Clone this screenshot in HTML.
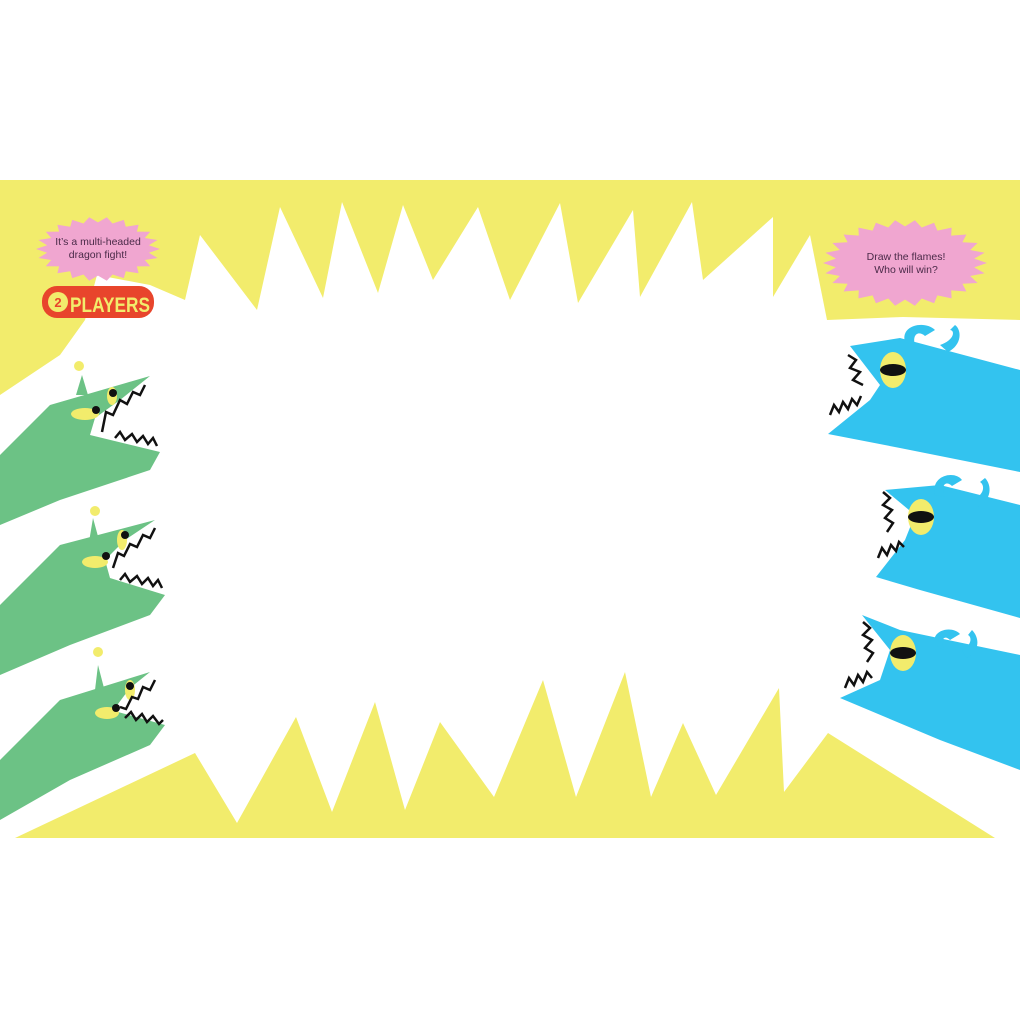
<!DOCTYPE html>
<html><head><meta charset="utf-8"><style>
html,body{margin:0;padding:0;background:#fff;}
svg{display:block}
text{font-family:"Liberation Sans",sans-serif}
</style></head><body>
<svg width="1020" height="1020" viewBox="0 0 1020 1020" xmlns="http://www.w3.org/2000/svg">
<rect width="1020" height="1020" fill="#fff"/>
<!-- top yellow -->
<polygon fill="#f2ec6c" points="0,180 1020,180 1020,320 903,317 827,320 810,235 773,297 773,217 703,280 692,202 640,297 633,210 578,303 560,203 510,300 478,207 433,280 403,205 378,293 342,202 323,298 280,207 257,310 200,235 185,300 150,285 97,275 85,320 60,355 0,395"/>
<!-- bottom yellow -->
<polygon fill="#f2ec6c" points="15,838 195,753 237,823 296,717 332,812 375,702 405,810 440,722 494,797 543,680 576,797 625,672 651,797 683,723 716,795 779,688 784,792 828,733 995,838"/>
<!-- bubbles -->
<polygon id="b1" fill="#f0a6d0"/>
<polygon id="b2" fill="#f0a6d0"/>
<text x="98" y="245" font-size="10.5" fill="#4a2a48" text-anchor="middle">It’s a multi-headed</text>
<text x="98" y="258" font-size="10.5" fill="#4a2a48" text-anchor="middle">dragon fight!</text>
<text x="906" y="260" font-size="10.5" fill="#4a2a48" text-anchor="middle">Draw the flames!</text>
<text x="906" y="273" font-size="10.5" fill="#4a2a48" text-anchor="middle">Who will win?</text>
<!-- players badge -->
<rect x="42" y="286" width="112" height="32" rx="15" fill="#e8452c"/>
<circle cx="58" cy="302" r="10" fill="#f2ec6c"/>
<text x="58" y="307" font-size="13" font-weight="bold" fill="#e8452c" text-anchor="middle">2</text>
<text x="70" y="312" font-size="21" font-weight="bold" fill="#f2ec6c" textLength="80" lengthAdjust="spacingAndGlyphs">PLAYERS</text>

<!-- green dragons -->
<g fill="#6cc285">
<polygon points="0,455 50,405 150,376 120,400 95,418 90,435 160,452 150,470 60,500 0,525"/>
<polygon points="0,605 60,545 155,520 125,540 105,560 110,578 165,595 150,615 70,645 0,675"/>
<polygon points="0,760 60,700 150,672 130,688 115,708 118,712 165,725 150,745 70,780 0,820"/>
<polygon points="76,395 82,375 88,395"/>
<polygon points="89,542 93,518 99,540"/>
<polygon points="95,690 98,665 104,688"/>
</g>
<g fill="#f2ec6c">
<circle cx="79" cy="366" r="5"/><circle cx="95" cy="511" r="5"/><circle cx="98" cy="652" r="5"/>
<ellipse cx="85" cy="414" rx="14" ry="6"/><ellipse cx="112" cy="396" rx="5" ry="9"/>
<ellipse cx="95" cy="562" rx="13" ry="6"/><ellipse cx="122" cy="540" rx="5" ry="10"/>
<ellipse cx="107" cy="713" rx="12" ry="6"/><ellipse cx="130" cy="690" rx="5" ry="10"/>
</g>
<g fill="#111">
<circle cx="96" cy="410" r="4"/><circle cx="113" cy="393" r="4"/>
<circle cx="106" cy="556" r="4"/><circle cx="125" cy="535" r="4"/>
<circle cx="116" cy="708" r="4"/><circle cx="130" cy="686" r="4"/>
</g>
<g fill="none" stroke="#111" stroke-width="2.5">
<polyline points="145,385 140,395 133,392 127,404 120,400 113,415 106,412 102,432"/>
<polyline points="115,438 120,432 125,440 132,434 137,442 143,436 148,444 153,438 157,446"/>
<polyline points="155,528 150,538 143,535 137,547 130,544 124,556 118,553 113,568"/>
<polyline points="120,580 125,574 130,582 137,576 142,584 148,578 153,586 158,580 162,588"/>
<polyline points="155,680 150,690 143,687 138,699 132,697 126,709 120,707"/>
<polyline points="125,718 131,712 136,720 142,714 147,722 153,716 159,724 163,720"/>
</g>

<!-- blue dragons -->
<g fill="#33c3ef">
<polygon points="850,346 900,338 1020,370 1020,472 900,448 828,434 870,400 880,385"/>
<polygon points="885,490 940,485 1020,505 1020,618 920,590 876,577 905,540 915,515"/>
<polygon points="862,615 900,630 1020,655 1020,770 940,740 840,698 880,680 890,650"/>
<path d="M905,342 C900,325 925,320 935,330 L925,336 C918,330 912,335 915,345 Z"/>
<path d="M940,345 C955,340 955,330 950,330 L955,325 C962,330 962,345 948,352 Z"/>
<path d="M935,495 C930,475 955,470 962,480 L952,486 C946,480 940,485 945,497 Z"/>
<path d="M972,500 C985,495 985,485 980,482 L985,478 C992,485 992,500 978,507 Z"/>
<path d="M935,645 C930,630 952,625 960,634 L950,640 C944,634 940,640 944,650 Z"/>
<path d="M962,650 C972,645 972,637 968,635 L972,630 C980,638 980,652 966,658 Z"/>
</g>
<g fill="#f2ec6c">
<ellipse cx="893" cy="370" rx="13" ry="18"/>
<ellipse cx="921" cy="517" rx="13" ry="18"/>
<ellipse cx="903" cy="653" rx="13" ry="18"/>
</g>
<g fill="#111">
<ellipse cx="893" cy="370" rx="13" ry="6"/>
<ellipse cx="921" cy="517" rx="13" ry="6"/>
<ellipse cx="903" cy="653" rx="13" ry="6"/>
</g>
<g fill="none" stroke="#111" stroke-width="2.5">
<polyline points="848,355 856,360 850,368 860,372 853,380 863,385"/>
<polyline points="830,415 834,405 839,412 843,402 848,409 852,399 857,405 861,396"/>
<polyline points="883,492 890,498 883,505 892,510 885,518 893,523 887,532"/>
<polyline points="878,558 882,548 887,555 891,545 896,551 899,542 904,547"/>
<polyline points="863,622 870,628 863,635 872,640 865,648 873,653 867,662"/>
<polyline points="845,688 849,678 854,685 858,675 863,682 867,672 872,678"/>
</g>
</svg>
<script>
function star(id,cx,cy,rx,ry,n,d){var p=[];for(var i=0;i<2*n;i++){var a=Math.PI*i/n;var k=i%2?1-d:1;p.push((cx+Math.cos(a)*rx*k).toFixed(1)+","+(cy+Math.sin(a)*ry*k).toFixed(1));}document.getElementById(id).setAttribute("points",p.join(" "));}
star("b1",98,249,62,32,22,0.17);
star("b2",905,263,82,43,26,0.15);
</script>
</body></html>
